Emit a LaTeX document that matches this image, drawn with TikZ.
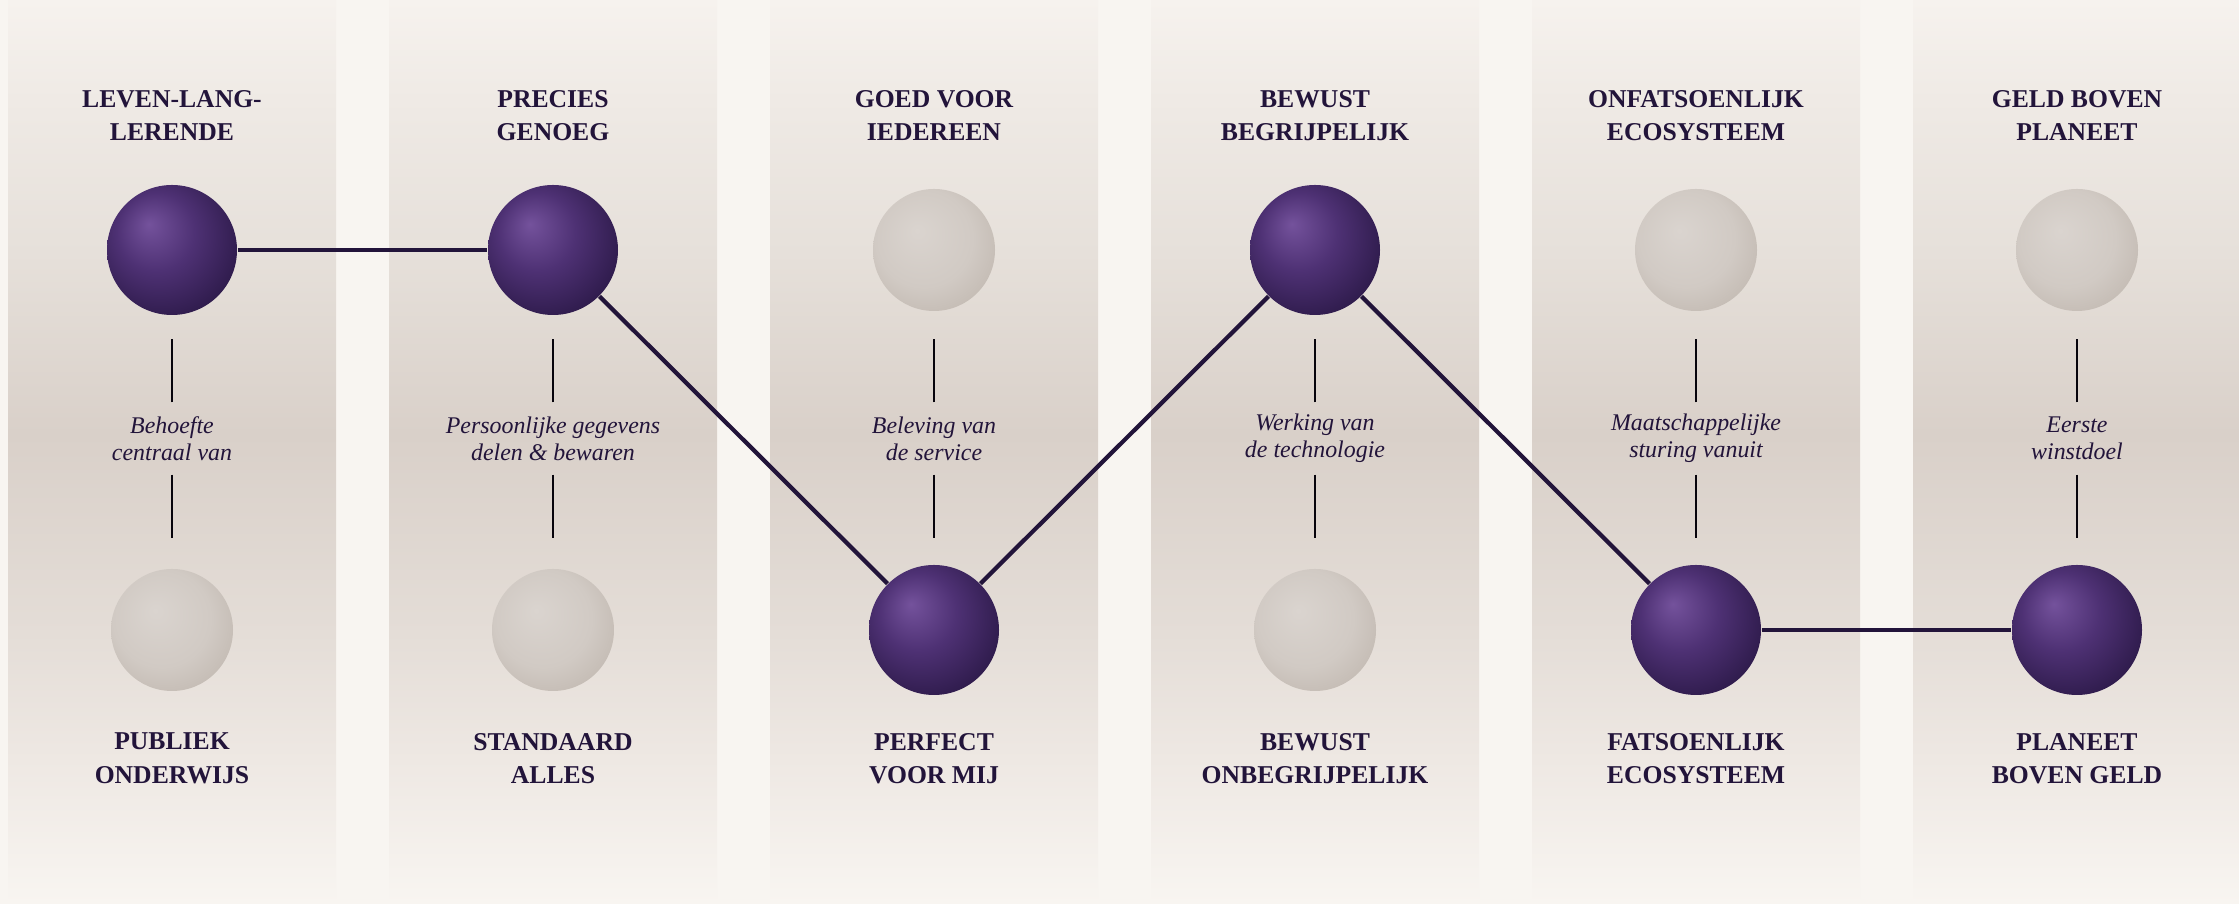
\documentclass[tikz,border=0pt]{standalone}
\usepackage{fontspec}
\setmainfont{Liberation Serif}

\definecolor{paper}{HTML}{F8F5F1}
\definecolor{ink}{HTML}{22143A}
\definecolor{plumlight}{HTML}{74529C}
\definecolor{plummid}{HTML}{4E3174}
\definecolor{plumdark}{HTML}{2A1846}
\definecolor{pebblelight}{HTML}{DAD4CF}
\definecolor{pebblemid}{HTML}{D1CAC4}
\definecolor{pebbledark}{HTML}{C0B7AF}
\definecolor{fadeA}{HTML}{EEE8E3}
\definecolor{fadeB}{HTML}{E4DDD7}
\definecolor{fadeC}{HTML}{D9D0C9}
\definecolor{fadeD}{HTML}{E6E0DA}
\definecolor{fadeE}{HTML}{EFEAE5}
\definecolor{fadeF}{HTML}{F6F2EE}

% tikz fits the middle half of a shading box onto the path
\pgfdeclareverticalshading{colfade}{100bp}{color(0bp)=(paper); color(25bp)=(paper); color(33bp)=(fadeA); color(40bp)=(fadeB); color(51bp)=(fadeC); color(61bp)=(fadeD); color(69.5bp)=(fadeE); color(75bp)=(fadeF); color(100bp)=(fadeF)}
\pgfdeclareradialshading{plumball}{\pgfpoint{-9bp}{10bp}}{color(0bp)=(plumlight); color(15bp)=(plummid); color(33bp)=(plumdark); color(50bp)=(plumdark)}
\pgfdeclareradialshading{pebble}{\pgfpoint{-7bp}{8bp}}{color(0bp)=(pebblelight); color(20bp)=(pebblemid); color(34bp)=(pebbledark); color(50bp)=(pebbledark)}

\begin{document}
\begin{tikzpicture}[
	title/.style={font=\fontsize{7.3}{9.4}\selectfont\bfseries, text=ink, align=center, inner sep=0pt, anchor=north},
	note/.style={font=\fontsize{6.8}{7.7}\selectfont\itshape, text=ink, align=center, inner sep=0pt, minimum height=0.71cm},
	picked/.style={circle, minimum size=1.3cm, inner sep=0pt, shade, shading=plumball},
	skipped/.style={circle, minimum size=1.22cm, inner sep=0pt, shade, shading=pebble},
	tick/.style={line width=0.75pt, draw=black!80!ink},
	route/.style={line width=1.2pt, draw=ink}]
	\useasboundingbox (0,0) rectangle (22.39,9.04);
	\fill[paper] (0,0) rectangle (22.39,9.04);
	\foreach \x in {1.72,5.53,9.34,13.15,16.96,20.77}
		\shade[shading=colfade] (\x-1.64,0) rectangle (\x+1.64,9.04);

	\node[title] (t1) at (1.72,8.145) {LEVEN-LANG-\\LERENDE};
	\node[picked] (a1) at (1.72,6.54) {};
	\node[note] (n1) at (1.72,4.655) {Behoefte\\centraal van};
	\node[skipped] (b1) at (1.72,2.74) {};
	\node[title] (u1) at (1.72,1.715) {PUBLIEK\\ONDERWIJS};

	\node[title] (t2) at (5.53,8.145) {PRECIES\\GENOEG};
	\node[picked] (a2) at (5.53,6.54) {};
	\node[note] (n2) at (5.53,4.655) {Persoonlijke gegevens\\delen \& bewaren};
	\node[skipped] (b2) at (5.53,2.74) {};
	\node[title] (u2) at (5.53,1.715) {STANDAARD\\ALLES};

	\node[title] (t3) at (9.34,8.145) {GOED VOOR\\IEDEREEN};
	\node[skipped] (a3) at (9.34,6.54) {};
	\node[note] (n3) at (9.34,4.655) {Beleving van\\de service};
	\node[picked] (b3) at (9.34,2.74) {};
	\node[title] (u3) at (9.34,1.715) {PERFECT\\VOOR MIJ};

	\node[title] (t4) at (13.15,8.145) {BEWUST\\BEGRIJPELIJK};
	\node[picked] (a4) at (13.15,6.54) {};
	\node[note] (n4) at (13.15,4.655) {Werking van\\de technologie};
	\node[skipped] (b4) at (13.15,2.74) {};
	\node[title] (u4) at (13.15,1.715) {BEWUST\\ONBEGRIJPELIJK};

	\node[title] (t5) at (16.96,8.145) {ONFATSOENLIJK\\ECOSYSTEEM};
	\node[skipped] (a5) at (16.96,6.54) {};
	\node[note] (n5) at (16.96,4.655) {Maatschappelijke\\sturing vanuit};
	\node[picked] (b5) at (16.96,2.74) {};
	\node[title] (u5) at (16.96,1.715) {FATSOENLIJK\\ECOSYSTEEM};

	\node[title] (t6) at (20.77,8.145) {GELD BOVEN\\PLANEET};
	\node[skipped] (a6) at (20.77,6.54) {};
	\node[note] (n6) at (20.77,4.655) {Eerste\\winstdoel};
	\node[picked] (b6) at (20.77,2.74) {};
	\node[title] (u6) at (20.77,1.715) {PLANEET\\BOVEN GELD};

	\foreach \i in {1,...,6} {
		\draw[tick] (n\i.north) -- ++(0,0.63);
		\draw[tick] (n\i.south) -- ++(0,-0.63);
	}

	\draw[route] (a1) -- (a2);
	\draw[route] (a2) -- (b3);
	\draw[route] (b3) -- (a4);
	\draw[route] (a4) -- (b5);
	\draw[route] (b5) -- (b6);
\end{tikzpicture}
\end{document}
